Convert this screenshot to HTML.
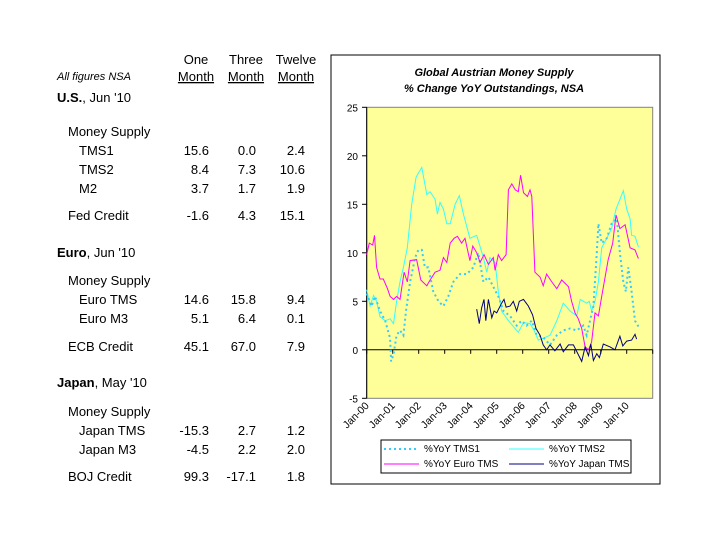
<!DOCTYPE html>
<html><head><meta charset="utf-8"><style>
body{margin:0;background:#fff;width:720px;height:540px;overflow:hidden;font-family:"Liberation Sans",Arial,sans-serif}
svg{position:absolute;left:0;top:0}
</style></head><body>
<svg id="s" width="720" height="540" font-family="Liberation Sans, Arial, sans-serif">
<g font-size="13" fill="#000">
<text x="196" y="64" text-anchor="middle">One</text>
<text x="246" y="64" text-anchor="middle">Three</text>
<text x="296" y="64" text-anchor="middle">Twelve</text>
<text x="196" y="81" text-anchor="middle" text-decoration="underline">Month</text>
<text x="246" y="81" text-anchor="middle" text-decoration="underline">Month</text>
<text x="296" y="81" text-anchor="middle" text-decoration="underline">Month</text>
<text x="57" y="80" font-size="11" font-style="italic">All figures NSA</text>
</g>
<g id="rows" font-size="13"></g>
<rect x="331" y="55" width="329" height="429" fill="#fff" stroke="#000"/>
<text x="494" y="76" text-anchor="middle" font-size="11" font-weight="bold" font-style="italic">Global Austrian Money Supply</text>
<text x="494" y="92" text-anchor="middle" font-size="11" font-weight="bold" font-style="italic">% Change YoY Outstandings, NSA</text>
<rect x="366.7" y="107.3" width="286" height="291" fill="#ffff99" stroke="#808080"/>
<g id="axes"></g>
<g id="series"></g>
<rect x="381" y="440" width="250" height="33" fill="#fff" stroke="#000"/>
<g id="legend" font-size="10"></g>
</svg>
<script>
const NS="http://www.w3.org/2000/svg";
const svg=document.getElementById('s');
function mk(tag,attrs,parent,text){const e=document.createElementNS(NS,tag);for(const k in attrs)e.setAttribute(k,attrs[k]);if(text!==undefined)e.textContent=text;parent.appendChild(e);return e;}
// table
const rowLabels=[["U.S.",", Jun '10",57,102,1],["Money Supply","",68,136,0],["TMS1","",79,155,0],["TMS2","",79,174,0],["M2","",79,193,0],["Fed Credit","",68,220,0],
["Euro",", Jun '10",57,257,1],["Money Supply","",68,285,0],["Euro TMS","",79,304,0],["Euro M3","",79,323,0],["ECB Credit","",68,351,0],
["Japan",", May '10",57,387,1],["Money Supply","",68,416,0],["Japan TMS","",79,435,0],["Japan M3","",79,454,0],["BOJ Credit","",68,481,0]];
const rowValues=[null,null,["15.6","0.0","2.4"],["8.4","7.3","10.6"],["3.7","1.7","1.9"],["-1.6","4.3","15.1"],null,null,["14.6","15.8","9.4"],["5.1","6.4","0.1"],["45.1","67.0","7.9"],null,null,["-15.3","2.7","1.2"],["-4.5","2.2","2.0"],["99.3","-17.1","1.8"]];
const colRight=[209,256,305];
const rows=document.getElementById('rows');
rowLabels.forEach((r,i)=>{
 const t=mk('text',{x:r[2],y:r[3]},rows);
 
 
 if(r[4]){mk('tspan',{'font-weight':'bold'},t,r[0]);mk('tspan',{},t,r[1]);}else t.textContent=r[0];
 if(rowValues[i])rowValues[i].forEach((v,j)=>{const c=mk('text',{x:colRight[j],y:r[3],'text-anchor':'end'},rows,v);
  
  });
});
// chart data (decimal years since 2000, % yoy)
const yTicks=[25,20,15,10,5,0,-5];
const xLabels=["Jan-00","Jan-01","Jan-02","Jan-03","Jan-04","Jan-05","Jan-06","Jan-07","Jan-08","Jan-09","Jan-10"];
const tms1T=[0,.19,.32,.51,.71,.9,.94,1.03,1.15,1.28,1.41,1.51,1.67,1.86,1.99,2.12,2.24,2.37,2.56,2.76,2.95,3.14,3.33,3.59,3.85,4.1,4.29,4.49,4.68,4.87,5.06,5.26,5.51,5.77,5.96,6.15,6.35,6.54,6.79,7.05,7.31,7.56,7.82,8.08,8.33,8.46,8.59,8.72,8.85,8.91,9.04,9.23,9.42,9.62,9.74,9.87,9.97,10.06,10.19,10.32,10.45];
const tms1V=[5.8,4.5,5.5,4,3,1.2,-1.2,-0.5,1.5,2,1.5,4,7,9.5,10.3,10.3,8.5,8.5,6,5,4.5,5.5,7,7.8,7.8,8.5,10,7,7.5,6.5,5.5,4,3.5,2.5,3,2.5,3,1.5,1.3,0.5,1.5,2,2.2,2,2.5,1.5,3,4.5,10,13,11,11.5,13,13.5,10,7,6,8.5,6,3,2.4];
const tms2T=[0,.13,.26,.38,.51,.71,.9,1.03,1.15,1.28,1.41,1.56,1.73,1.9,2.12,2.31,2.44,2.63,2.72,2.82,2.95,3.08,3.21,3.4,3.56,3.72,3.97,4.23,4.49,4.62,4.74,4.94,5.06,5.19,5.45,5.83,6.03,6.28,6.44,6.6,6.79,7.05,7.31,7.56,7.82,8.08,8.21,8.46,8.56,8.65,8.78,8.91,9.04,9.23,9.42,9.59,9.74,9.87,10.0,10.13,10.19,10.32,10.45];
const tms2V=[6.2,4.5,5.6,5,3.4,3,3.2,2.7,5,7,8.5,10.5,15,17.8,18.8,16,16.3,15.5,14,15.2,14.5,13,13,15,15.9,14,11.5,11.8,9.5,8,9.5,9,6,4,3,1.8,2.8,2.7,2,1,1.2,1.5,3,4.8,4,3.5,5.2,4.8,5,4,5,7,10.5,11.5,12.5,14.5,15.5,16.4,14.5,13.5,11.8,11.7,10.6];
const euroT=[0,.1,.23,.3,.38,.51,.64,.8,.9,1.03,1.15,1.28,1.44,1.56,1.67,1.92,2.08,2.31,2.44,2.63,2.82,2.95,3.08,3.21,3.36,3.49,3.65,3.78,3.97,4.08,4.23,4.36,4.51,4.68,4.87,4.94,5.06,5.19,5.36,5.45,5.58,5.71,5.83,5.92,6.03,6.18,6.28,6.35,6.47,6.67,6.79,6.92,7.12,7.31,7.5,7.76,7.88,8.01,8.14,8.27,8.4,8.53,8.65,8.78,8.91,9.04,9.17,9.29,9.46,9.59,9.74,9.94,10.13,10.32,10.45];
const euroV=[9.8,11,10.8,11.8,8.5,7.3,7.3,6.3,5.5,5.2,5.5,5.2,8,7,9.2,9.3,7.2,6.6,7.2,8,8.2,9.5,9,11,11.5,11.7,11,11.5,9.2,10.7,10,9,9.8,8.8,9.5,8.2,9.8,9.2,9.8,16.5,17.1,16.5,16.3,18,16.2,15.8,16.5,15.8,8,7.5,6.6,7.8,7,6.3,7.2,6.5,5,3.8,3.2,2.2,0.3,0,0.8,3.8,3.5,5.5,7.5,9.3,11,13.9,12.5,12.9,10.5,10.3,9.4];
const japanT=[4.23,4.33,4.42,4.51,4.58,4.68,4.81,4.9,5.0,5.19,5.28,5.36,5.51,5.64,5.77,5.87,6.03,6.22,6.38,6.51,6.67,6.79,6.92,7.05,7.24,7.44,7.56,7.76,7.95,8.14,8.27,8.4,8.53,8.62,8.72,8.85,8.95,9.1,9.36,9.55,9.74,9.85,10.0,10.19,10.32,10.38];
const japanV=[4.2,2.7,4.3,5.2,3,5.2,3.3,4,3.8,4.8,5.2,4.4,4.5,5,4,5,5.2,4.5,3.6,2.2,1.5,0.5,0,0.5,-0.1,0.6,-0.2,0.5,0.5,-0.5,-1.2,0.3,-0.6,0.6,-1.1,-0.4,-0.8,0.6,0.3,0,1.4,0.4,0.9,1.0,1.6,1.1];
const X0=366.7,XW=286,YT=107.3,YB=398.3;
const xs=t=>X0+t*XW/11;
const ys=v=>YT+(25-v)*(YB-YT)/30;
const ax=document.getElementById('axes');
yTicks.forEach(v=>{const t=mk('text',{x:358,y:ys(v)+4,'text-anchor':'end','font-size':10},ax,String(v));
 
 
 mk('line',{x1:362,x2:366.7,y1:ys(v),y2:ys(v),stroke:'#000'},ax);});
mk('line',{x1:366.7,x2:366.7,y1:YT,y2:YB,stroke:'#000'},ax);
const zl=mk('line',{x1:X0,x2:X0+XW,y1:ys(0),y2:ys(0),stroke:'#000'},ax);


for(let i=0;i<=11;i++)mk('line',{x1:xs(i),x2:xs(i),y1:ys(0),y2:ys(0)+4,stroke:'#000'},ax);
xLabels.forEach((l,i)=>{const x=xs(i)+3,y=ys(-5)+8;const t=mk('text',{x:x,y:y,'text-anchor':'end','font-size':10.5,transform:`rotate(-45 ${x} ${y})`},ax,l);
 
 });
const sg=document.getElementById('series');
function line(T,V,color,w,dash,name){const d=T.map((t,i)=>(i?'L':'M')+xs(t).toFixed(1)+' '+ys(V[i]).toFixed(1)).join('');
 const p=mk('path',{d:d,fill:'none',stroke:color,'stroke-width':w},sg);if(dash)p.setAttribute('stroke-dasharray',dash);
 
 }
line(tms2T,tms2V,'#33ffff',1,null,'series-tms2');
line(tms1T,tms1V,'#33ccff',2,'2,3','series-tms1');
line(euroT,euroV,'#ff00ff',1,null,'series-euro-tms');
line(japanT,japanV,'#000080',1,null,'series-japan-tms');
const lg=document.getElementById('legend');
const leg=[["%YoY TMS1",'#33ccff',2,'2,3',384,452],["%YoY TMS2",'#33ffff',1,null,509,452],["%YoY Euro TMS",'#ff00ff',1,null,384,467],["%YoY Japan TMS",'#000080',1,null,509,467]];
leg.forEach(e=>{const g=mk('g',{},lg);
 
 
 const l=mk('line',{x1:e[4],x2:e[4]+35,y1:e[5]-3,y2:e[5]-3,stroke:e[1],'stroke-width':e[2]},g);if(e[3])l.setAttribute('stroke-dasharray',e[3]);
 mk('text',{x:e[4]+40,y:e[5]},g,e[0]);});
</script>
</body></html>
